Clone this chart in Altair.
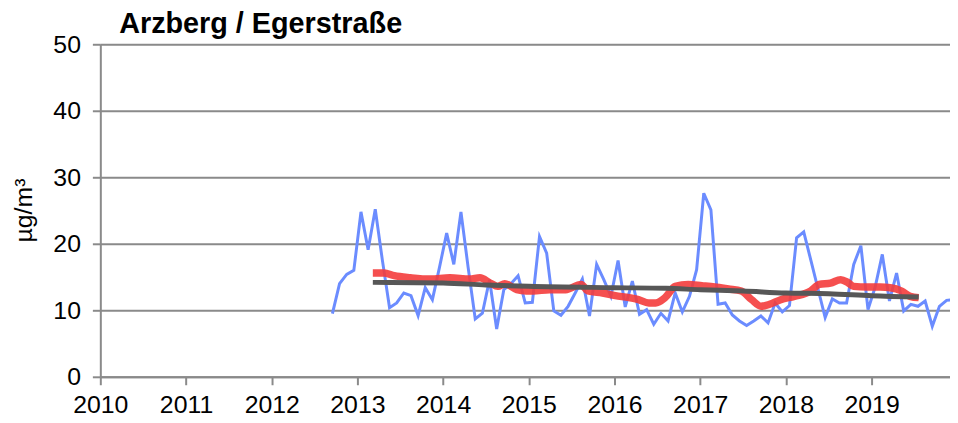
import altair as alt
import pandas as pd

# Monthly values (µg/m³), Sep 2012 .. Dec 2019
blue_values = [
    9.5, 14.0, 15.4, 16.0,                                                # 2012 Sep-Dec
    24.8, 19.1, 25.2, 17.5, 10.4, 11.1, 12.6, 12.2, 9.2, 13.4, 11.6, 16.5,   # 2013
    21.6, 16.9, 24.8, 16.5, 8.7, 9.55, 14.6, 7.2, 13.1, 14.0, 15.2, 11.1,    # 2014
    11.2, 21.1, 18.6, 9.9, 9.25, 10.6, 12.6, 14.7, 9.15, 16.9, 14.6, 12.1,   # 2015
    17.5, 10.5, 14.4, 9.4, 10.1, 7.9, 9.55, 8.4, 12.6, 9.75, 12.1, 16.1,     # 2016
    27.6, 25.1, 10.9, 11.1, 9.3, 8.4, 7.7, 8.4, 9.15, 8.1, 11.1, 9.75,       # 2017
    10.7, 20.9, 21.8, 17.5, 13.2, 8.9, 11.7, 11.1, 11.1, 16.9, 19.7, 10.1,   # 2018
    13.5, 18.4, 11.4, 15.6, 9.9, 10.9, 10.6, 11.4, 7.6, 10.6, 11.5, 11.6,    # 2019
]
blue_years = [2012 + (8 + i + 0.5) / 12 for i in range(len(blue_values))]

# Moving average (red)
red_years = [2013.18, 2013.31, 2013.43, 2013.62, 2013.85, 2014.08, 2014.31, 2014.43,
             2014.55, 2014.64, 2014.72, 2014.86, 2014.97, 2015.05, 2015.24, 2015.43,
             2015.61, 2015.69, 2015.86, 2016.01, 2016.17, 2016.28, 2016.40, 2016.48,
             2016.59, 2016.71, 2016.86, 2017.02, 2017.17, 2017.33, 2017.48, 2017.60,
             2017.71, 2017.81, 2017.94, 2018.10, 2018.29, 2018.39, 2018.52, 2018.64,
             2018.72, 2018.79, 2018.95, 2019.10, 2019.22, 2019.35, 2019.45, 2019.55]
red_values = [15.6, 15.6, 15.2, 14.9, 14.7, 14.9, 14.7, 14.9,
              14.1, 13.6, 14.0, 13.1, 12.9, 12.9, 13.1, 13.1,
              13.9, 12.9, 12.6, 12.2, 11.9, 11.6, 11.1, 11.1,
              11.9, 13.6, 13.9, 13.7, 13.5, 13.2, 12.9, 11.6,
              10.6, 10.9, 11.6, 12.1, 12.9, 13.9, 14.1, 14.6,
              14.2, 13.6, 13.5, 13.5, 13.4, 12.9, 12.1, 11.9]

# Trend (dark grey)
trend_years = [2013.18, 2014.0, 2014.5, 2015.0, 2016.0, 2016.6, 2017.0, 2017.5,
               2018.0, 2018.5, 2019.0, 2019.55]
trend_values = [14.2, 14.1, 13.8, 13.6, 13.4, 13.3, 13.1, 12.9, 12.6, 12.5, 12.2, 12.0]

year_ticks = list(range(2010, 2020))
y_ticks = [0, 10, 20, 30, 40, 50]

FONT = "Liberation Sans"
GRID = "#8a8a8a"

df_blue = pd.DataFrame({"year": blue_years, "value": blue_values})
df_red = pd.DataFrame({"year": red_years, "value": red_values})
df_trend = pd.DataFrame({"year": trend_years, "value": trend_values})

xscale = alt.Scale(domain=[2010, 2019.915], nice=False, zero=False)
yscale = alt.Scale(domain=[0, 50], nice=False)

xaxis = alt.Axis(values=year_ticks, format="d", grid=False, tickSize=8, tickWidth=2,
                 tickColor=GRID, domainColor=GRID, domainWidth=2,
                 labelFont=FONT, labelFontSize=25, labelColor="black",
                 labelPadding=8, title=None, labelFlush=False)
yaxis = alt.Axis(values=y_ticks, grid=True, gridColor=GRID, gridWidth=2,
                 tickSize=8, tickWidth=2, tickColor=GRID, domainColor=GRID, domainWidth=2,
                 labelFont=FONT, labelFontSize=25, labelColor="black", labelPadding=12,
                 title="µg/m³", titleFont=FONT, titleFontSize=25, titleFontWeight="normal",
                 titleColor="black", titleX=-77, titleY=167, titleAngle=270,
                 titleAlign="center", titleBaseline="middle")

blue = alt.Chart(df_blue).mark_line(color="#6b8cff", strokeWidth=3, clip=True).encode(
    x=alt.X("year:Q", scale=xscale, axis=xaxis),
    y=alt.Y("value:Q", scale=yscale, axis=yaxis),
)
red = alt.Chart(df_red).mark_line(color="#f43c3c", strokeWidth=7.5, opacity=0.9,
                                  interpolate="monotone").encode(
    x=alt.X("year:Q", scale=xscale),
    y=alt.Y("value:Q", scale=yscale),
)
trend = alt.Chart(df_trend).mark_line(color="#575757", strokeWidth=5,
                                      interpolate="monotone").encode(
    x=alt.X("year:Q", scale=xscale),
    y=alt.Y("value:Q", scale=yscale),
)

chart = alt.layer(blue, red, trend).properties(
    width=856,
    height=335,
    autosize=alt.AutoSizeParams(type="none"),
    padding={"left": 93, "top": 35, "right": 0, "bottom": 45},
    title=alt.TitleParams("Arzberg / Egerstraße", anchor="start", frame="group",
                          dx=19, dy=19, font=FONT, fontSize=29, fontWeight="bold",
                          color="black", offset=12),
).configure_view(stroke=None).configure(background="white")

chart.save("out.html", embed_options={"renderer": "svg", "actions": False})
